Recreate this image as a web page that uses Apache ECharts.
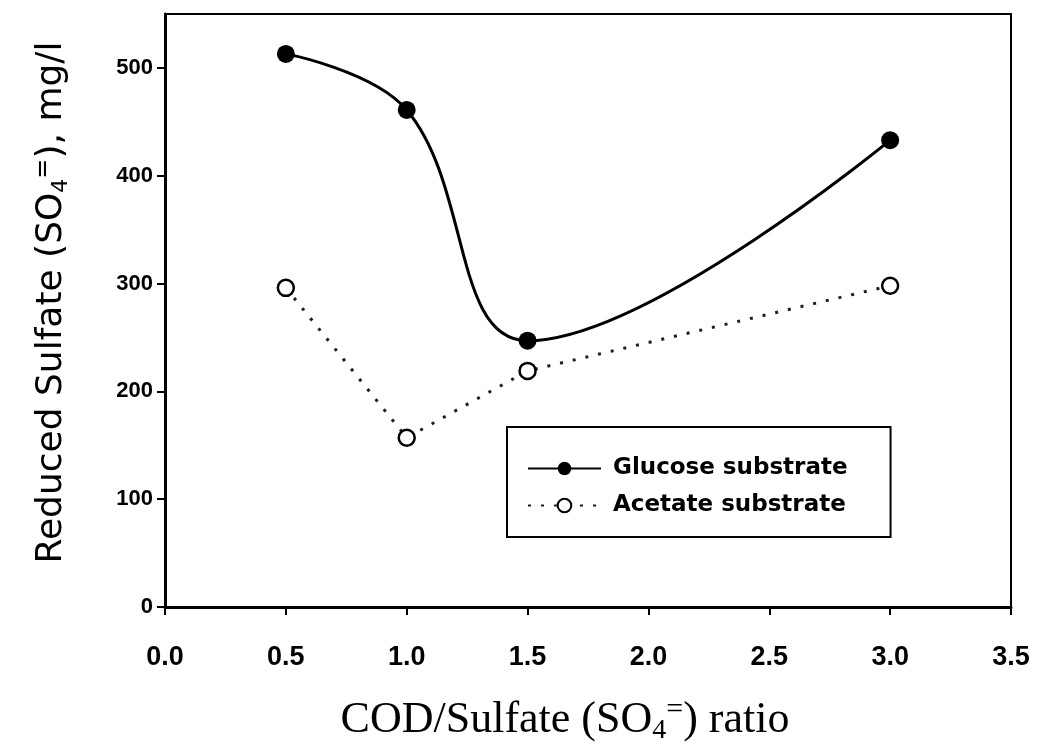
<!DOCTYPE html>
<html>
<head>
<meta charset="utf-8">
<script src="https://cdn.jsdelivr.net/npm/echarts@6/dist/echarts.min.js"></script>
<style>
    html, body { margin: 0; padding: 0; background: #fff; }
    #chart { width: 1044px; height: 745px; }
</style>
</head>
<body>
<div id="chart"></div>
<script>
// data
var ratios = [0.5, 1.0, 1.5, 3.0];
var glucose = [513, 461, 247, 433];
var acetate = [296, 157, 219, 298];
var xTicks = [0, 0.5, 1.0, 1.5, 2.0, 2.5, 3.0, 3.5];
var yTicks = [0, 100, 200, 300, 400, 500];

function pairs(xs, ys) {
    var out = [];
    for (var i = 0; i < xs.length; i++) {
        out.push([xs[i], ys[i]]);
    }
    return out;
}

var myChart = echarts.init(document.getElementById('chart'));
var option = {
    backgroundColor: '#fff',
    animation: false,
    grid: {
        left: 165, right: 33, top: 14, bottom: 138,
        outerBoundsMode: 'none',
        show: true, borderColor: '#000', borderWidth: 2, backgroundColor: 'transparent'
    },
    legend: {
        left: 507, top: 427,
        orient: 'vertical',
        padding: [30, 43, 20, 20],
        borderColor: '#000', borderWidth: 2,
        itemWidth: 73, itemHeight: 17, itemGap: 14,
        textStyle: {
            fontFamily: 'DejaVu Sans', fontWeight: 'bold', fontSize: 23,
            color: '#000', padding: [0, 0, 0, 7]
        },
        data: ['Glucose substrate', 'Acetate substrate']
    },
    xAxis: {
        type: 'value', min: 0, max: 3.5, interval: 0.5,
        name: '{t|COD/Sulfate (SO}{sub|4}{sup|=}{t|) ratio}',
        nameLocation: 'middle', nameGap: 88,
        nameTextStyle: {
            padding: [0, 46, 0, 0],
            rich: {
                t: { fontFamily: 'Liberation Serif', fontSize: 44, color: '#000', lineHeight: 50, verticalAlign: 'middle' },
                sub: { fontFamily: 'Liberation Serif', fontSize: 28, color: '#000', lineHeight: 22, verticalAlign: 'bottom' },
                sup: { fontFamily: 'Liberation Serif', fontSize: 30, color: '#000', lineHeight: 22, verticalAlign: 'top' }
            }
        },
        axisLine: { lineStyle: { color: '#000', width: 3 } },
        axisTick: { show: true, inside: false, length: 8, lineStyle: { color: '#000', width: 2 }, customValues: xTicks },
        axisLabel: {
            customValues: xTicks,
            margin: 37, color: '#000', fontFamily: 'Liberation Sans', fontWeight: 'bold', fontSize: 27,
            formatter: function (v) { return v.toFixed(1); }
        },
        splitLine: { show: false }
    },
    yAxis: {
        type: 'value', min: 0, max: 550, interval: 100,
        name: '{t|Reduced Sulfate (SO}{sub|4}{sup|=}{t|), mg/l}',
        nameLocation: 'middle', nameGap: 93, nameRotate: 90,
        nameTextStyle: {
            padding: [0, 0, 0, 16],
            rich: {
                t: { fontFamily: 'DejaVu Sans', fontSize: 36, color: '#000', lineHeight: 40, verticalAlign: 'middle' },
                sub: { fontFamily: 'DejaVu Sans', fontSize: 22, color: '#000', lineHeight: 18, verticalAlign: 'bottom' },
                sup: { fontFamily: 'DejaVu Sans', fontSize: 24, color: '#000', lineHeight: 18, verticalAlign: 'top' }
            }
        },
        axisLine: { show: true, lineStyle: { color: '#000', width: 3 } },
        axisTick: { show: true, inside: false, length: 8, lineStyle: { color: '#000', width: 2 }, customValues: yTicks },
        axisLabel: {
            customValues: yTicks,
            margin: 12, color: '#000', fontFamily: 'Liberation Sans', fontWeight: 'bold', fontSize: 22
        },
        splitLine: { show: false }
    },
    series: [
        {
            name: 'Glucose substrate',
            type: 'line',
            smooth: 0.4,
            data: pairs(ratios, glucose),
            symbol: 'circle', symbolSize: 18,
            itemStyle: { color: '#000' },
            lineStyle: { color: '#000', width: 3 },
            z: 3
        },
        {
            name: 'Acetate substrate',
            type: 'line',
            data: pairs(ratios, acetate),
            symbol: 'circle', symbolSize: 16,
            itemStyle: { color: '#fff', borderColor: '#000', borderWidth: 2.5 },
            lineStyle: { color: '#1a1a40', width: 3, type: [3, 10] },
            z: 2
        }
    ]
};
myChart.setOption(option);
</script>
</body>
</html>
